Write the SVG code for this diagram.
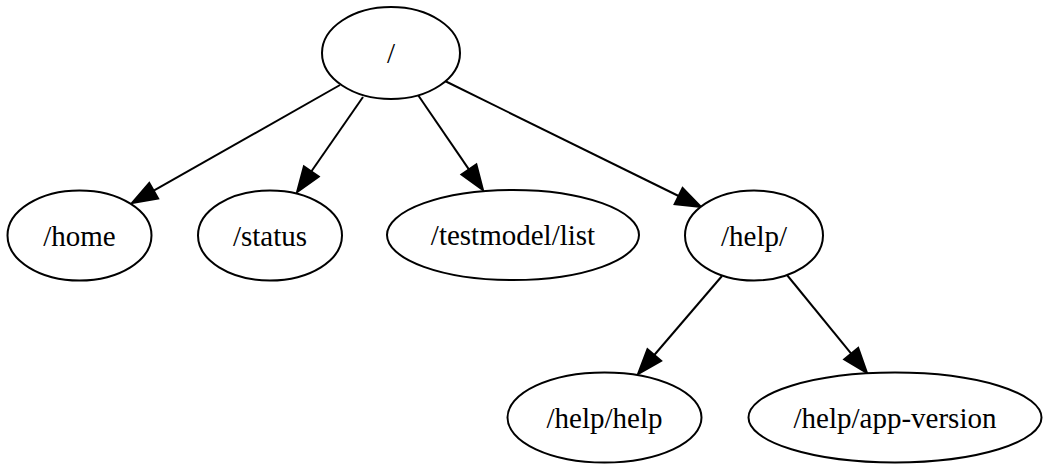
<svg xmlns="http://www.w3.org/2000/svg" width="1043" height="464" viewBox="0 0 1043 464">
  <style>
    .node ellipse { fill: #ffffff; stroke: #000000; stroke-width: 2; }
    .node text { font-family: "Liberation Serif", "Times New Roman", serif; font-size: 29px; text-anchor: middle; fill: #000000; }
    .edges line { stroke: #000000; stroke-width: 2; marker-end: url(#arrow); }
  </style>
  <defs>
    <marker id="arrow" markerUnits="userSpaceOnUse" markerWidth="30" markerHeight="24" refX="0" refY="10" orient="auto" overflow="visible">
      <path d="M0,1 L25,10 L0,19 Z" fill="#000000" stroke="#000000" stroke-width="2"/>
    </marker>
  </defs>
  <rect width="1043" height="464" fill="#ffffff"/>

  <!-- connectors: each line stops at the arrowhead base -->
  <g id="edges" class="edges">
    <line x1="340" y1="85" x2="153.7" y2="190.7"/>
    <line x1="363" y1="97" x2="311.3" y2="171.5"/>
    <line x1="418" y1="95" x2="468.9" y2="169.4"/>
    <line x1="445" y1="81" x2="678.6" y2="196.0"/>
    <line x1="722" y1="276" x2="654.3" y2="355.0"/>
    <line x1="787" y1="275" x2="851.2" y2="353.6"/>
  </g>

  <g id="root" class="node">
    <ellipse cx="391" cy="53" rx="69" ry="46"/>
    <text x="391" y="63">/</text>
  </g>
  <g id="home" class="node">
    <ellipse cx="79.5" cy="235.5" rx="72" ry="45"/>
    <text x="79.5" y="245.5">/home</text>
  </g>
  <g id="status" class="node">
    <ellipse cx="270" cy="235.5" rx="72" ry="45"/>
    <text x="270" y="245.5">/status</text>
  </g>
  <g id="testmodel-list" class="node">
    <ellipse cx="513" cy="235" rx="126" ry="45"/>
    <text x="513" y="245">/testmodel/list</text>
  </g>
  <g id="help" class="node">
    <ellipse cx="754" cy="235.5" rx="69" ry="45"/>
    <text x="754" y="245.5">/help/</text>
  </g>
  <g id="help-help" class="node">
    <ellipse cx="604.5" cy="417.5" rx="97" ry="45"/>
    <text x="604.5" y="427.5">/help/help</text>
  </g>
  <g id="help-app-version" class="node">
    <ellipse cx="895" cy="417.5" rx="146.5" ry="45"/>
    <text x="895" y="427.5">/help/app-version</text>
  </g>
</svg>
